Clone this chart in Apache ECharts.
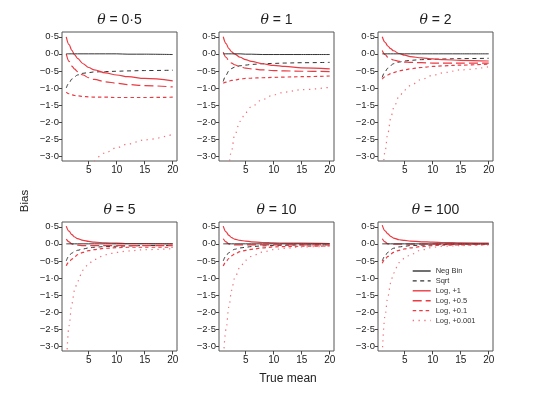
<!DOCTYPE html>
<html>
<head>
<meta charset="utf-8">
<script src="https://cdn.jsdelivr.net/npm/echarts@6/dist/echarts.min.js"></script>
<style>
html,body{margin:0;padding:0;background:#fff;}
#c{width:554px;height:395px;}
</style>
</head>
<body>
<div id="c"></div>
<script>
// ---- data ----
const thetas = ['0\u00B75', '1', '2', '5', '10', '100'];
const seriesNames = ['Neg Bin', 'Sqrt', 'Log, +1', 'Log, +0.5', 'Log, +0.1', 'Log, +0.001'];
const xs = [1, 1.5, 2, 2.5, 3, 4, 5, 6, 8, 10, 12, 15, 20];
const yTicks = [-3, -2.5, -2, -1.5, -1, -0.5, 0, 0.5];
const xTicks = [5, 10, 15, 20];

// theta = 0.5
const p1_negbin = [0, 0, 0, 0, 0, 0, 0, 0, 0, 0, -0.01, -0.01, -0.02];
const p1_sqrt   = [-1.0, -0.85, -0.74, -0.67, -0.62, -0.57, -0.55, -0.53, -0.52, -0.51, -0.50, -0.49, -0.48];
const p1_log1   = [0.5, 0.27, 0.1, -0.03, -0.13, -0.29, -0.40, -0.47, -0.56, -0.62, -0.67, -0.72, -0.79];
const p1_log05  = [0.0, -0.22, -0.36, -0.45, -0.52, -0.62, -0.70, -0.75, -0.82, -0.86, -0.90, -0.93, -0.97];
const p1_log01  = [-1.12, -1.17, -1.20, -1.22, -1.23, -1.25, -1.26, -1.27, -1.27, -1.28, -1.28, -1.28, -1.27];
const p1_log0001= [null, null, null, null, null, null, null, -3.15, -2.9, -2.75, -2.64, -2.52, -2.36];
// theta = 1
const p2_negbin = [0, 0, 0, 0, 0, 0, -0.01, -0.01, -0.02, -0.02, -0.02, -0.02, -0.02];
const p2_sqrt   = [-0.81, -0.62, -0.50, -0.43, -0.39, -0.35, -0.33, -0.31, -0.29, -0.28, -0.27, -0.26, -0.25];
const p2_log1   = [0.5, 0.3, 0.15, 0.06, 0.0, -0.1, -0.17, -0.22, -0.29, -0.34, -0.37, -0.41, -0.44];
const p2_log05  = [0.05, -0.1, -0.2, -0.27, -0.32, -0.38, -0.42, -0.44, -0.47, -0.49, -0.50, -0.51, -0.52];
const p2_log01  = [-0.86, -0.83, -0.80, -0.78, -0.77, -0.74, -0.72, -0.71, -0.70, -0.69, -0.68, -0.67, -0.65];
const p2_log0001= [null, null, -3.3, -2.82, -2.4, -1.98, -1.72, -1.55, -1.34, -1.2, -1.12, -1.05, -0.98];
// theta = 2
const p3_negbin = [0, 0, 0, 0, 0, 0, 0, 0, 0, 0, 0, 0, 0];
const p3_sqrt   = [-0.69, -0.52, -0.42, -0.34, -0.29, -0.24, -0.21, -0.19, -0.17, -0.16, -0.15, -0.14, -0.13];
const p3_log1   = [0.5, 0.34, 0.23, 0.15, 0.09, 0.01, -0.04, -0.08, -0.12, -0.15, -0.17, -0.19, -0.21];
const p3_log05  = [0.1, -0.02, -0.1, -0.15, -0.18, -0.22, -0.24, -0.25, -0.26, -0.27, -0.27, -0.27, -0.27];
const p3_log01  = [-0.74, -0.67, -0.62, -0.58, -0.55, -0.50, -0.47, -0.44, -0.40, -0.37, -0.35, -0.33, -0.30];
const p3_log0001= [-3.8, -2.85, -2.33, -1.9, -1.6, -1.25, -1.06, -0.93, -0.75, -0.63, -0.55, -0.47, -0.38];
// theta = 5
const p4_negbin = [0, 0, 0, 0, 0, 0, 0, 0, 0, 0, 0, 0, 0];
const p4_sqrt   = [-0.50, -0.35, -0.27, -0.22, -0.19, -0.15, -0.12, -0.10, -0.08, -0.07, -0.06, -0.05, -0.05];
const p4_log1   = [0.52, 0.37, 0.27, 0.2, 0.15, 0.1, 0.07, 0.05, 0.03, 0.02, 0.01, 0.01, 0.0];
const p4_log05  = [0.14, 0.06, 0.0, -0.03, -0.04, -0.05, -0.05, -0.05, -0.05, -0.05, -0.05, -0.05, -0.05];
const p4_log01  = [-0.64, -0.53, -0.45, -0.38, -0.32, -0.25, -0.20, -0.17, -0.13, -0.11, -0.10, -0.10, -0.10];
const p4_log0001= [-3.6, -2.4, -1.75, -1.35, -1.1, -0.77, -0.58, -0.46, -0.32, -0.25, -0.21, -0.17, -0.14];
// theta = 10
const p5_negbin = [0, 0, 0, 0, 0, 0, 0, 0, 0, 0, 0, 0, 0];
const p5_sqrt   = [-0.50, -0.35, -0.26, -0.20, -0.16, -0.12, -0.10, -0.08, -0.06, -0.05, -0.04, -0.03, -0.03];
const p5_log1   = [0.52, 0.35, 0.25, 0.18, 0.14, 0.1, 0.08, 0.06, 0.04, 0.03, 0.02, 0.02, 0.01];
const p5_log05  = [0.15, 0.06, 0.0, -0.02, -0.03, -0.03, -0.03, -0.03, -0.03, -0.03, -0.03, -0.03, -0.03];
const p5_log01  = [-0.65, -0.52, -0.43, -0.35, -0.30, -0.23, -0.19, -0.16, -0.12, -0.09, -0.08, -0.07, -0.06];
const p5_log0001= [-3.4, -2.5, -1.85, -1.36, -1.02, -0.68, -0.48, -0.37, -0.24, -0.17, -0.13, -0.09, -0.07];
// theta = 100
const p6_negbin = [0, 0, 0, 0, 0, 0, 0, 0, 0, 0, 0, 0, 0];
const p6_sqrt   = [-0.50, -0.35, -0.25, -0.17, -0.13, -0.09, -0.07, -0.05, -0.04, -0.03, -0.02, -0.01, -0.01];
const p6_log1   = [0.55, 0.38, 0.29, 0.22, 0.17, 0.12, 0.1, 0.08, 0.06, 0.05, 0.04, 0.03, 0.02];
const p6_log05  = [0.15, 0.06, 0.0, -0.01, -0.01, -0.01, -0.01, -0.01, -0.01, -0.01, -0.01, -0.01, -0.01];
const p6_log01  = [-0.57, -0.45, -0.37, -0.30, -0.25, -0.19, -0.15, -0.12, -0.08, -0.05, -0.04, -0.03, -0.02];
const p6_log0001= [-3.2, -2.1, -1.55, -1.15, -0.86, -0.55, -0.42, -0.32, -0.18, -0.10, -0.07, -0.05, -0.03];

const panels = [
  [p1_negbin, p1_sqrt, p1_log1, p1_log05, p1_log01, p1_log0001],
  [p2_negbin, p2_sqrt, p2_log1, p2_log05, p2_log01, p2_log0001],
  [p3_negbin, p3_sqrt, p3_log1, p3_log05, p3_log01, p3_log0001],
  [p4_negbin, p4_sqrt, p4_log1, p4_log05, p4_log01, p4_log0001],
  [p5_negbin, p5_sqrt, p5_log1, p5_log05, p5_log01, p5_log0001],
  [p6_negbin, p6_sqrt, p6_log1, p6_log05, p6_log01, p6_log0001]
];

// ---- layout / style ----
const FONT = '"Liberation Sans", Arial, Helvetica, sans-serif';
const lefts = [62, 219, 378];
const tops = [32, 222];
const W = 115, H = 129;
const RED = '#ea3a42';
const styles = [
  {color: '#333333', width: 1, type: 'solid'},
  {color: '#333333', width: 1, type: [4, 3.5]},
  {color: RED, width: 1.2, type: 'solid'},
  {color: RED, width: 1.2, type: [9, 4]},
  {color: RED, width: 1.2, type: [3.5, 3]},
  {color: '#f0727a', width: 1.2, type: [1.3, 4.5]}
];

function fmtY(v) {
  const s = Math.abs(v).toFixed(1).replace('.', '\u00B7');
  return (v < -1e-9 ? '\u2212' : '') + s;
}

const grid = [], xAxis = [], yAxis = [], series = [], graphic = [];
for (let p = 0; p < 6; p++) {
  const col = p % 3, row = Math.floor(p / 3);
  grid.push({left: lefts[col], top: tops[row], width: W, height: H,
    show: true, borderColor: '#555', borderWidth: 1, backgroundColor: 'transparent'});
  xAxis.push({type: 'value', gridIndex: p, min: 0.24, max: 20.76,
    axisLine: {show: false, onZero: false},
    splitLine: {show: false},
    axisTick: {show: true, length: 3.5, customValues: xTicks, lineStyle: {color: '#444'}},
    axisLabel: {show: true, customValues: xTicks, margin: 4, fontSize: 10, fontFamily: FONT, color: '#1a1a1a'}
  });
  yAxis.push({type: 'value', gridIndex: p, min: -3.14, max: 0.64,
    axisLine: {show: false, onZero: false},
    splitLine: {show: false},
    axisTick: {show: true, length: 3, customValues: yTicks, lineStyle: {color: '#444'}},
    axisLabel: {show: true, customValues: yTicks, margin: 3, fontSize: 9.5, fontFamily: FONT, color: '#1a1a1a', formatter: fmtY}
  });
  const arrs = panels[p];
  for (let s = 0; s < 6; s++) {
    const data = [];
    xs.forEach((x, i) => { if (arrs[s][i] !== null) data.push([x, arrs[s][i]]); });
    series.push({
      name: seriesNames[s], type: 'line', xAxisIndex: p, yAxisIndex: p,
      data: data, showSymbol: false, symbol: 'none', smooth: 0.35, smoothMonotone: 'x',
      clip: true, animation: false, silent: true,
      lineStyle: {color: styles[s].color, width: styles[s].width, type: styles[s].type, cap: 'butt'},
      itemStyle: {color: styles[s].color},
      z: s === 0 ? 3 : 2
    });
  }
  graphic.push({type: 'text', x: lefts[col] + W / 2, y: tops[row] - 12,
    style: {text: '{t|\u03B8} = ' + thetas[p], x: 0, y: 0, align: 'center', verticalAlign: 'middle',
      fontSize: 14, fontFamily: FONT, fill: '#222',
      rich: {t: {fontStyle: 'italic', fontSize: 14, fontFamily: '"DejaVu Serif", serif', fill: '#222'}}}});
}
graphic.push({type: 'text', x: 25, y: 201, rotation: Math.PI / 2,
  style: {text: 'Bias', align: 'center', verticalAlign: 'middle', fontSize: 11.5, fontFamily: FONT, fill: '#222'}});
graphic.push({type: 'text', x: 288, y: 379,
  style: {text: 'True mean', align: 'center', verticalAlign: 'middle', fontSize: 12, fontFamily: FONT, fill: '#222'}});

const chart = echarts.init(document.getElementById('c'), null, {renderer: 'canvas'});
chart.setOption({
  animation: false,
  backgroundColor: '#fff',
  grid, xAxis, yAxis, series, graphic,
  legend: {
    show: true, orient: 'vertical', left: 412, top: 267,
    itemWidth: 18, itemHeight: 8, itemGap: 1.9, padding: 0,
    selectedMode: false,
    data: seriesNames,
    itemStyle: {opacity: 0, borderWidth: 0},
    lineStyle: {width: 1.4},
    textStyle: {fontSize: 7.5, fontFamily: FONT, color: '#333', lineHeight: 8}
  }
});
</script>
</body>
</html>
